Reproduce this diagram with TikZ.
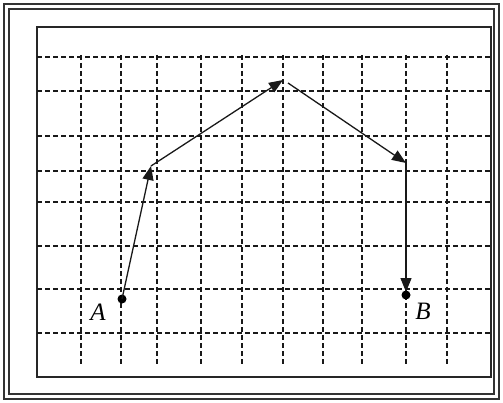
\documentclass[tikz,border=0pt]{standalone}
\usepackage{fontspec}
\setmainfont{Liberation Serif}
\usetikzlibrary{arrows.meta}
\begin{document}
\begin{tikzpicture}[x=1pt,y=-1pt,
  gridline/.style={dash pattern=on 5pt off 3pt,line width=1.2pt,black!90},
  frameline/.style={draw=black!80,line width=2pt},
  vec/.style={line width=1.3pt,black!90,-{Triangle[length=14pt,width=11pt]}},
  dotpt/.style={circle,fill=black,inner sep=0pt,minimum size=9pt},
  lbl/.style={font=\fontsize{25}{26}\selectfont\itshape,inner sep=0pt}]
\useasboundingbox (0,0) rectangle (503,403);
% outer double frame
\draw[frameline] (4,4) rectangle (499,399);
\draw[frameline,line width=1.6pt] (9,9) rectangle (494,394);
% inner rectangle
\draw[line width=1.4pt,black!85] (37,27) rectangle (491,377);
% grid
\foreach \yy in {57,91,136,171,202,246,289,333}
  \draw[gridline] (37,\yy) -- (490,\yy);
\foreach \xx in {81,121,157,201,242,283,323,362,406,447}
  \draw[gridline] (\xx,55) -- (\xx,366);
% points
\node[dotpt] (A) at (122,299) {};
\node[dotpt] (B) at (406,295) {};
\coordinate (P1) at (151,166);
\coordinate (P2) at (283,80);
\coordinate (P2s) at (288,83);
\coordinate (P3) at (406,163);
\coordinate (Bt) at (406,292);
\draw[vec] (A.center) -- (P1);
\draw[vec] (P1) -- (P2);
\draw[vec] (P2s) -- (P3);
\draw[vec] (P3) -- (Bt);
\node[lbl] (la) at (98,312) {A};
\node[lbl] (lb) at (423,311) {B};
\end{tikzpicture}
\end{document}
